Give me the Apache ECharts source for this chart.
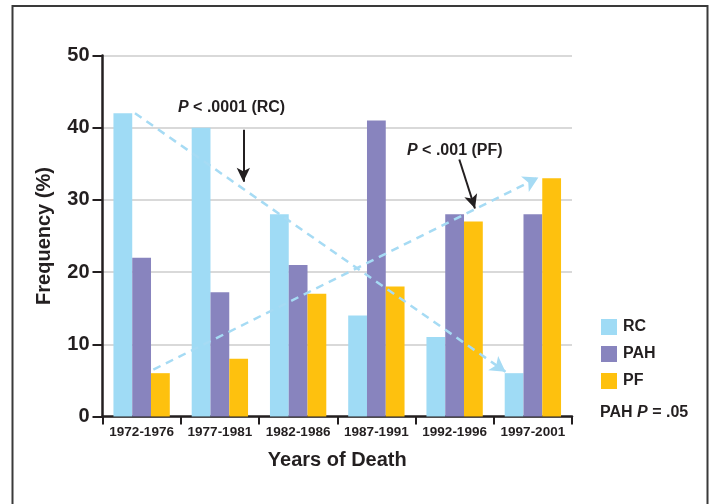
<!DOCTYPE html>
<html>
<head>
<meta charset="utf-8">
<script src="https://cdn.jsdelivr.net/npm/echarts@6/dist/echarts.min.js"></script>
<style>
html,body{margin:0;padding:0;background:#fff;}
#chart{width:710px;height:504px;}
</style>
</head>
<body>
<div id="chart"></div>
<script>
// ---- data ----
const categories = ['1972-1976', '1977-1981', '1982-1986', '1987-1991', '1992-1996', '1997-2001'];
const rcValues  = [42, 40, 28, 14, 11, 6];
const pahValues = [22, 17.2, 21, 41, 28, 28];
const pfValues  = [6, 8, 17, 18, 27, 33];
const yTicks = [0, 10, 20, 30, 40, 50];
// trend lines (x in category-position units 0..6, y in %)
const rcTrend = [[0.415, 42.0], [5.15, 6.2]];
const pfTrend = [[0.65, 6.5], [5.57, 33.1]];
// annotation arrows
const rcArrow = [[1.80, 39.7], [1.80, 32.5]];
const pfArrow = [[4.56, 35.6], [4.76, 28.8]];

const FONT = "'Liberation Sans', Arial, Helvetica, sans-serif";
const DARK = '#231f20';
const C_RC = '#9fdbf5', C_PAH = '#8884be', C_PF = '#fec10e';
const TREND = '#a6dbf4';

const chart = echarts.init(document.getElementById('chart'), null, {renderer: 'canvas'});

function segLine(pts, color, type, width, symSize) {
  return {
    silent: true,
    symbol: ['none', 'arrow'],
    symbolSize: symSize,
    label: {show: false},
    lineStyle: {color: color, type: type, width: width, opacity: 1},
    emphasis: {disabled: true},
    data: [[{coord: pts[0]}, {coord: pts[1]}]]
  };
}

const option = {
  animation: false,
  backgroundColor: '#fff',
  textStyle: {fontFamily: FONT},
  grid: {left: 102.5, right: 138, top: 55.5, bottom: 87.5, containLabel: false},
  legend: {
    data: ['RC', 'PAH', 'PF'],
    orient: 'vertical',
    left: 601, top: 319,
    itemWidth: 16, itemHeight: 16, itemGap: 11,
    icon: 'rect', padding: 0,
    selectedMode: false,
    textStyle: {fontFamily: FONT, fontSize: 16, fontWeight: 'bold', color: DARK, padding: [0, 0, 0, 1]}
  },
  xAxis: [
    {
      type: 'category', data: categories,
      name: 'Years of Death', nameLocation: 'middle', nameGap: 34,
      nameTextStyle: {fontFamily: FONT, fontSize: 20, fontWeight: 'bold', color: DARK},
      axisLine: {lineStyle: {color: DARK, width: 2.5}},
      axisTick: {show: true, length: 8, lineStyle: {color: DARK, width: 2}},
      axisLabel: {fontFamily: FONT, fontSize: 13.5, fontWeight: 'bold', color: DARK, margin: 9, interval: 0}
    },
    {
      type: 'value', min: 0, max: 6, show: false,
      splitLine: {show: false}
    }
  ],
  yAxis: {
    type: 'value', min: 0, max: 50, interval: 10,
    name: 'Frequency (%)', nameLocation: 'middle', nameGap: 48,
    nameTextStyle: {fontFamily: FONT, fontSize: 20, fontWeight: 'bold', color: DARK},
    axisLine: {show: true, lineStyle: {color: DARK, width: 2.5}},
    axisTick: {show: true, length: 10, lineStyle: {color: DARK, width: 2}},
    axisLabel: {fontFamily: FONT, fontSize: 20, fontWeight: 'bold', color: DARK, margin: 13,
      formatter: v => (yTicks.indexOf(v) >= 0 ? String(v) : '')},
    splitLine: {show: true, lineStyle: {color: '#cdcdcd', width: 1.5}}
  },
  series: [
    {name: 'RC', type: 'bar', data: rcValues, itemStyle: {color: C_RC}, barGap: '0%', barCategoryGap: '28%', silent: true},
    {name: 'PAH', type: 'bar', data: pahValues, itemStyle: {color: C_PAH}, barGap: '0%', barCategoryGap: '28%', silent: true},
    {name: 'PF', type: 'bar', data: pfValues, itemStyle: {color: C_PF}, barGap: '0%', barCategoryGap: '28%', silent: true},
    {name: 'rcTrend', type: 'line', xAxisIndex: 1, yAxisIndex: 0, data: [], silent: true, z: 10,
      markLine: segLine(rcTrend, TREND, [8, 6], 2.5, [13, 15])},
    {name: 'pfTrend', type: 'line', xAxisIndex: 1, yAxisIndex: 0, data: [], silent: true, z: 10,
      markLine: segLine(pfTrend, TREND, [8, 6], 2.5, [13, 15])},
    {name: 'rcArrow', type: 'line', xAxisIndex: 1, yAxisIndex: 0, data: [], silent: true, z: 11,
      markLine: segLine(rcArrow, DARK, 'solid', 2, [10, 14])},
    {name: 'pfArrow', type: 'line', xAxisIndex: 1, yAxisIndex: 0, data: [], silent: true, z: 11,
      markLine: segLine(pfArrow, DARK, 'solid', 2, [10, 14])}
  ],
  graphic: [
    {type: 'rect', silent: true, z: 100,
      shape: {x: 12.5, y: 6, width: 695, height: 530},
      style: {fill: 'none', stroke: '#3a3a3a', lineWidth: 2}},
    {type: 'text', left: 178, top: 100, silent: true,
      style: {text: '{i|P} < .0001 (RC)', fill: DARK, font: "bold 16px " + FONT,
        rich: {i: {fontStyle: 'italic', fontWeight: 'bold', fontSize: 16, fontFamily: FONT, fill: DARK}}}},
    {type: 'text', left: 407, top: 143, silent: true,
      style: {text: '{i|P} < .001 (PF)', fill: DARK, font: "bold 16px " + FONT,
        rich: {i: {fontStyle: 'italic', fontWeight: 'bold', fontSize: 16, fontFamily: FONT, fill: DARK}}}},
    {type: 'text', left: 600, top: 405, silent: true,
      style: {text: 'PAH {i|P} = .05', fill: DARK, font: "bold 16px " + FONT,
        rich: {i: {fontStyle: 'italic', fontWeight: 'bold', fontSize: 16, fontFamily: FONT, fill: DARK}}}}
  ]
};
chart.setOption(option);
</script>
</body>
</html>
